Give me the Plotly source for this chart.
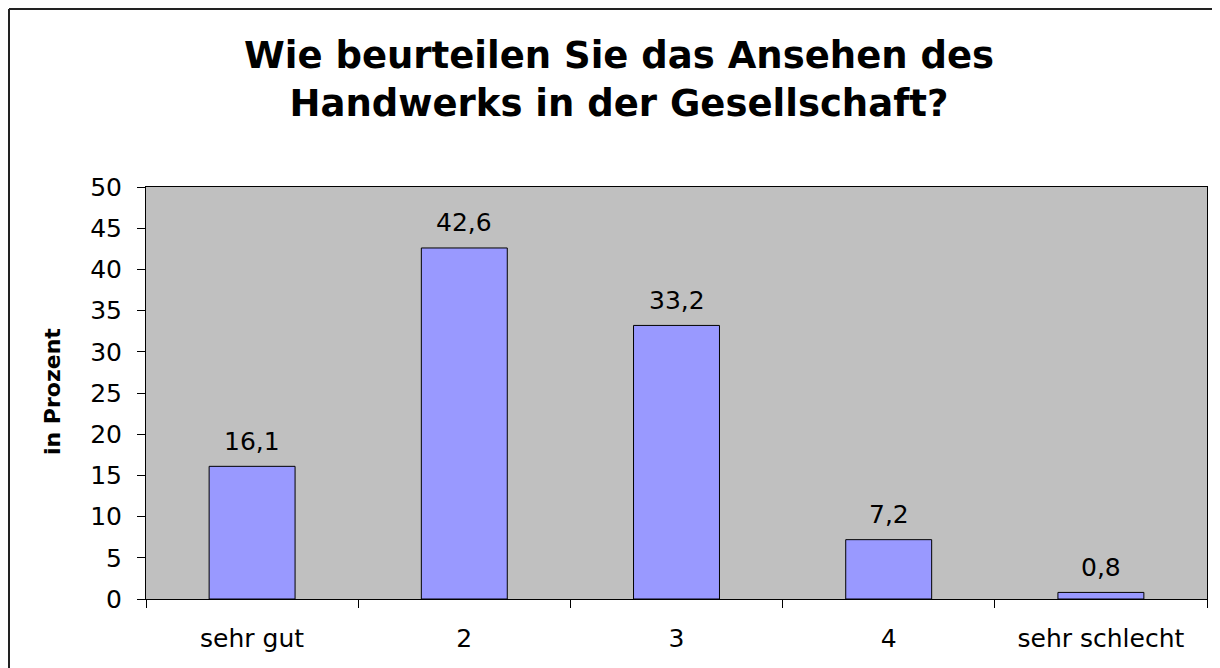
import plotly.graph_objects as go

categories = ["sehr gut", "2", "3", "4", "sehr schlecht"]
values = [16.1, 42.6, 33.2, 7.2, 0.8]
value_labels = ["16,1", "42,6", "33,2", "7,2", "0,8"]
y_ticks = [0, 5, 10, 15, 20, 25, 30, 35, 40, 45, 50]

title_text = "Wie beurteilen Sie das Ansehen des<br>Handwerks in der Gesellschaft?"
y_title = "in Prozent"

FONT = "DejaVu Sans"

OFF = 8  # page body margin
W, H = 1220 - OFF, 668 - OFF
L, R, T, B = 146 - OFF, 1207 - OFF, 187 - OFF, 599 - OFF
pw, ph = R - L, B - T

fig = go.Figure()
fig.add_trace(go.Bar(
    x=categories, y=values,
    marker=dict(color="#9999FF", line=dict(color="black", width=1)),
    width=0.405,
    hoverinfo="skip",
))

for i, (v, lab) in enumerate(zip(values, value_labels)):
    fig.add_annotation(x=i, y=v, text=lab, showarrow=False,
                       xref="x", yref="y", yanchor="middle", yshift=25,
                       font=dict(family=FONT, size=25, color="black"))

fig.add_annotation(xref="paper", yref="paper", x=(52 - OFF - L) / pw,
                   y=(B - (392 - OFF)) / ph,
                   text=y_title, textangle=-90, showarrow=False,
                   xanchor="center", yanchor="middle",
                   font=dict(family=FONT, size=22, color="black", weight="bold"))

# outer frame (left and top edges visible)
x_left = (1 - L) / pw
y_top = (B - 1) / ph
fig.add_shape(type="line", xref="paper", yref="paper", x0=x_left, x1=x_left,
              y0=-0.3, y1=y_top, line=dict(color="#222222", width=2))
fig.add_shape(type="line", xref="paper", yref="paper", x0=x_left, x1=1.05,
              y0=y_top, y1=y_top, line=dict(color="#222222", width=2))

fig.update_layout(
    width=W, height=H,
    margin=dict(l=L, r=W - R, t=T, b=H - B),
    paper_bgcolor="white",
    plot_bgcolor="#C0C0C0",
    showlegend=False,
    title=dict(text=title_text, x=(619 - OFF) / W, xanchor="center", xref="container",
               y=1 - 60 / H, yanchor="top", yref="container",
               font=dict(family=FONT, size=37, color="black", weight="bold")),
    font=dict(family=FONT, color="black"),
)
fig.update_xaxes(
    type="category", tickson="boundaries", ticks="outside", ticklen=8,
    tickcolor="black", tickwidth=1,
    showline=True, linecolor="black", linewidth=1, mirror=True,
    showgrid=False, tickfont=dict(family=FONT, size=25, color="black"),
    ticklabelstandoff=17,
)
fig.update_yaxes(
    range=[0, 50], tickvals=y_ticks, ticks="outside", ticklen=8,
    tickcolor="black", tickwidth=1,
    showline=True, linecolor="black", linewidth=1, mirror=True,
    showgrid=False, zeroline=False,
    tickfont=dict(family=FONT, size=25, color="black"),
    ticklabelstandoff=10,
)

fig.write_html("out.html")
